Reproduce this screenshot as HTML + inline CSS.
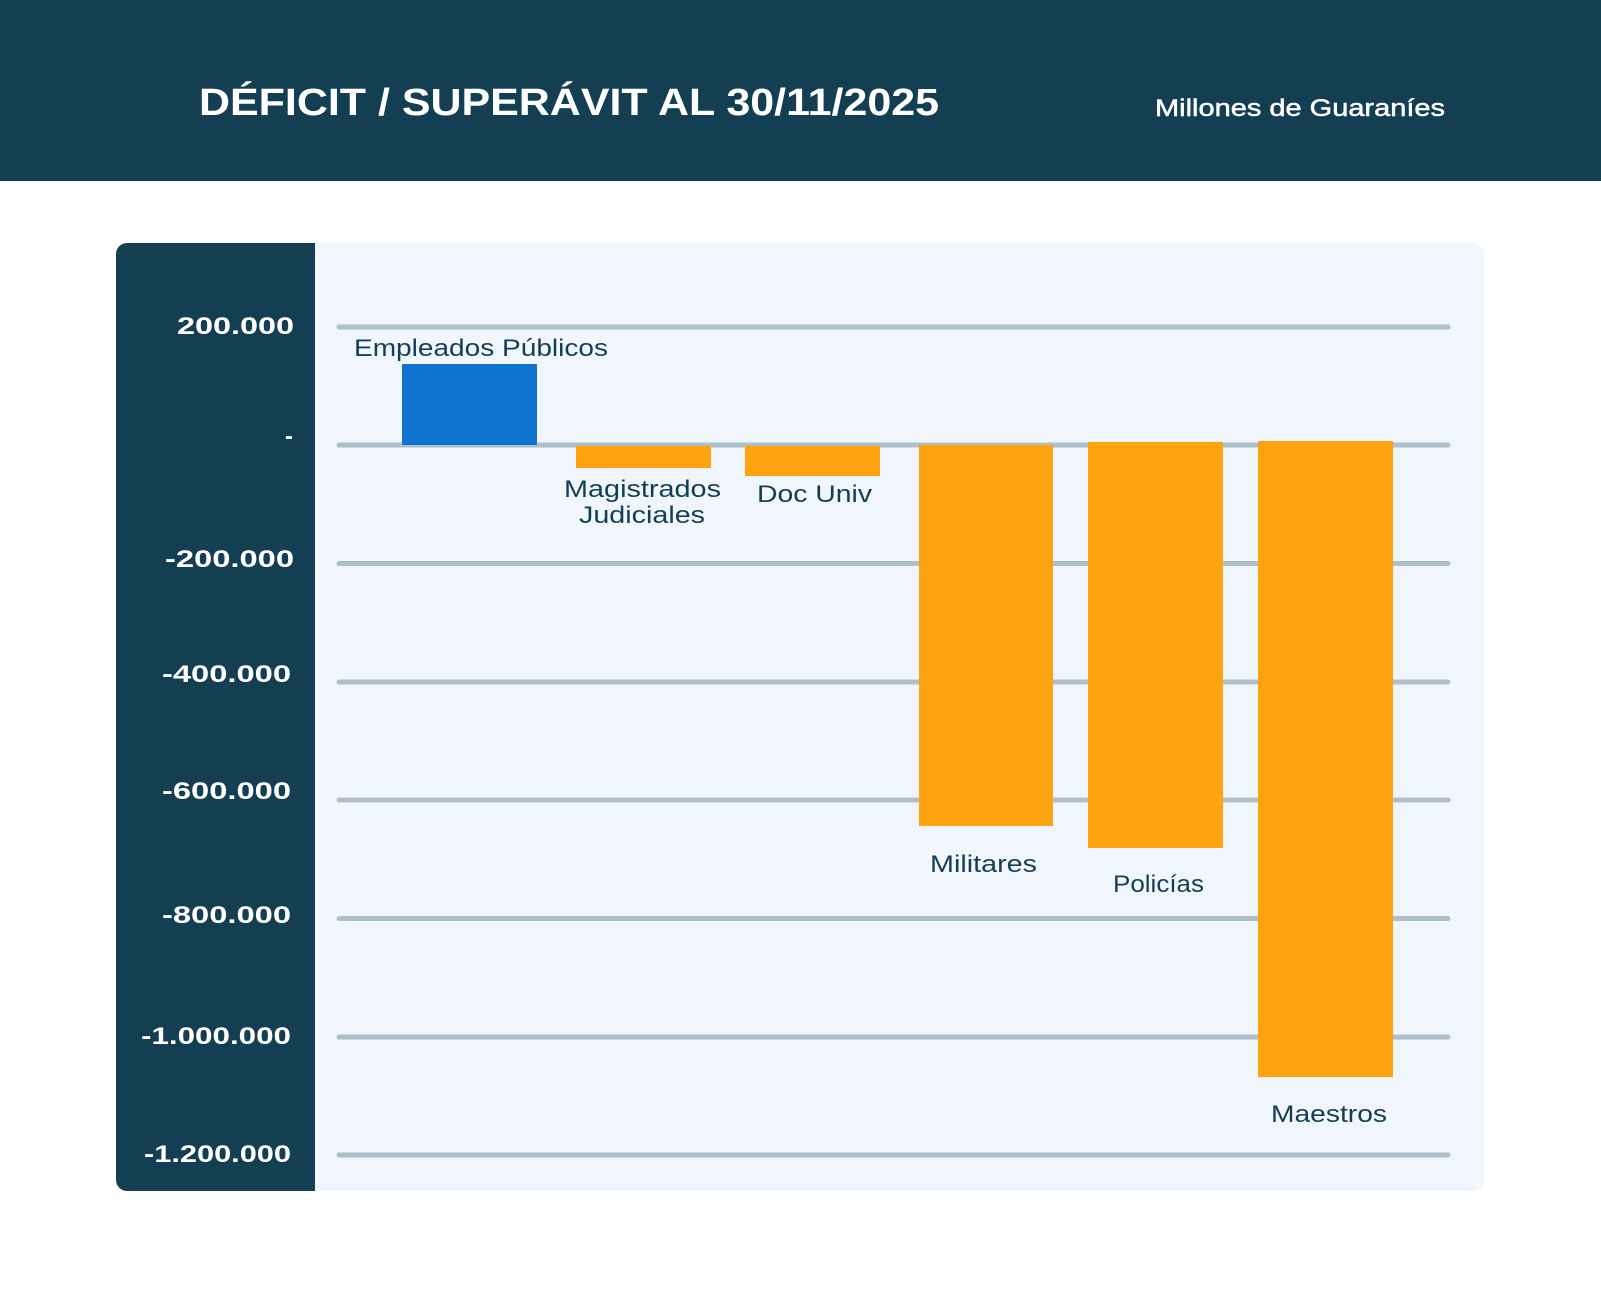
<!DOCTYPE html>
<html><head><meta charset="utf-8"><style>
html,body{margin:0;padding:0;background:#fff;}
svg{display:block;}
text{font-family:"Liberation Sans",sans-serif;}
</style></head><body>
<svg width="1601" height="1310" viewBox="0 0 1601 1310" xmlns="http://www.w3.org/2000/svg">
<rect x="0" y="0" width="1601" height="181" fill="#143f53"/>
<text x="199" y="115" fill="#fff" font-size="38" font-weight="bold" textLength="740" lengthAdjust="spacingAndGlyphs">DÉFICIT / SUPERÁVIT AL 30/11/2025</text>
<text x="1155" y="116" fill="#fff" stroke="#fff" stroke-width="0.5" font-size="24" textLength="290" lengthAdjust="spacingAndGlyphs">Millones de Guaraníes</text>
<rect x="116" y="243" width="1368" height="948" rx="11" fill="#f1f6fd"/>
<path d="M127 243 H315 V1191 H127 A11 11 0 0 1 116 1180 V254 A11 11 0 0 1 127 243 Z" fill="#143f53"/>
<g stroke="#aebfca" stroke-width="5" stroke-linecap="round">
<line x1="339" y1="327" x2="1448" y2="327"/>
<line x1="339" y1="445" x2="1448" y2="445"/>
<line x1="339" y1="563.5" x2="1448" y2="563.5"/>
<line x1="339" y1="682" x2="1448" y2="682"/>
<line x1="339" y1="800" x2="1448" y2="800"/>
<line x1="339" y1="918.5" x2="1448" y2="918.5"/>
<line x1="339" y1="1037" x2="1448" y2="1037"/>
<line x1="339" y1="1155" x2="1448" y2="1155"/>
</g>
<g fill="#fff" font-size="24" font-weight="bold">
<text x="177" y="334" textLength="117" lengthAdjust="spacingAndGlyphs">200.000</text>
<text x="285" y="444">-</text>
<text x="165" y="567" textLength="129" lengthAdjust="spacingAndGlyphs">-200.000</text>
<text x="162" y="682" textLength="129" lengthAdjust="spacingAndGlyphs">-400.000</text>
<text x="162" y="799" textLength="129" lengthAdjust="spacingAndGlyphs">-600.000</text>
<text x="162" y="923" textLength="129" lengthAdjust="spacingAndGlyphs">-800.000</text>
<text x="141" y="1044" textLength="150" lengthAdjust="spacingAndGlyphs">-1.000.000</text>
<text x="144" y="1162" textLength="147" lengthAdjust="spacingAndGlyphs">-1.200.000</text>
</g>
<rect x="402" y="364" width="135" height="81" fill="#0f73d0"/>
<g fill="#fea310">
<rect x="576" y="446" width="135" height="22"/>
<rect x="745" y="446" width="135" height="30"/>
<rect x="919" y="445" width="134" height="381"/>
<rect x="1088" y="442" width="135" height="406"/>
<rect x="1258" y="441" width="135" height="636"/>
</g>
<g fill="#143f53" font-size="24">
<text x="354" y="356" textLength="254" lengthAdjust="spacingAndGlyphs">Empleados  Públicos</text>
<text x="564" y="497" textLength="157" lengthAdjust="spacingAndGlyphs">Magistrados</text>
<text x="579" y="523" textLength="126" lengthAdjust="spacingAndGlyphs">Judiciales</text>
<text x="757" y="502" textLength="115" lengthAdjust="spacingAndGlyphs">Doc Univ</text>
<text x="930" y="872" textLength="107" lengthAdjust="spacingAndGlyphs">Militares</text>
<text x="1113" y="892" textLength="91" lengthAdjust="spacingAndGlyphs">Policías</text>
<text x="1271" y="1122" textLength="116" lengthAdjust="spacingAndGlyphs">Maestros</text>
</g>
</svg>
</body></html>
